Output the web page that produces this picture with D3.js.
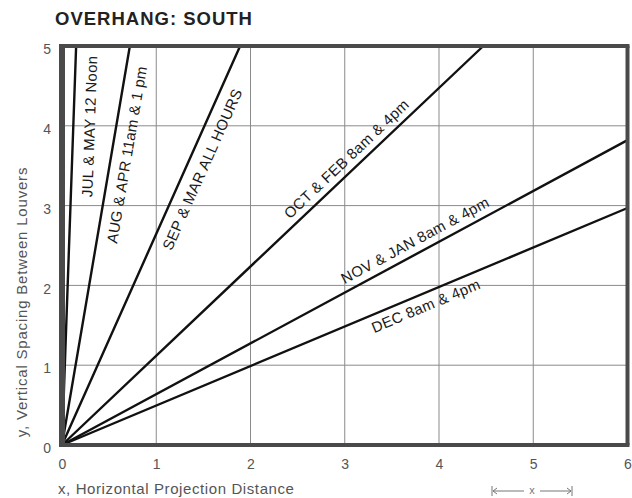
<!DOCTYPE html>
<html><head><meta charset="utf-8">
<script src="https://cdn.jsdelivr.net/npm/d3@7"></script>
<style>
body{margin:0;background:#fff;}
svg text{font-family:"Liberation Sans",Arial,Helvetica,sans-serif;}
</style></head>
<body><svg id="c" width="632" height="498"></svg>
<script>
// ---- data ----
const xTicks = [0, 1, 2, 3, 4, 5, 6];
const yTicks = [0, 1, 2, 3, 4, 5];
const lineNames = ["JUL & MAY 12 Noon", "AUG & APR 11am & 1 pm", "SEP & MAR ALL HOURS",
                   "OCT & FEB 8am & 4pm", "NOV & JAN 8am & 4pm", "DEC 8am & 4pm"];
const lineEndX = [0.15, 0.72, 1.89, 4.47, 6, 6];
const lineEndY = [5, 5, 5, 5, 3.82, 2.97];
// label placement (fraction along line, perpendicular offset px)
const labelT = [0.80, 0.734, 0.707, 0.695, 0.635, 0.635];
const labelOff = [16, 15, 15.5, -12.5, -13, 12];

const svg = d3.select("#c");
const x = d3.scaleLinear().domain([0, 6]).range([62, 627.5]);
const y = d3.scaleLinear().domain([0, 5]).range([445, 46]);

// title
svg.append("text").attr("x", 55).attr("y", 25).text("OVERHANG: SOUTH")
  .attr("font-size", 18.5).attr("font-weight", "bold").attr("fill", "#222").attr("letter-spacing", 1.0);

// grid
svg.append("g").selectAll("line").data(xTicks.slice(1, -1)).join("line")
  .attr("x1", d => x(d)).attr("x2", d => x(d)).attr("y1", y(0)).attr("y2", y(5))
  .attr("stroke", "#8a8a8a").attr("stroke-width", 1);
svg.append("g").selectAll("line").data(yTicks.slice(1, -1)).join("line")
  .attr("y1", d => y(d)).attr("y2", d => y(d)).attr("x1", x(0)).attr("x2", x(6))
  .attr("stroke", "#8a8a8a").attr("stroke-width", 1);

// axes tick labels via d3 axes
const xAxis = svg.append("g").attr("transform", `translate(0,${y(0)})`)
  .call(d3.axisBottom(x).tickValues(xTicks).tickFormat(d3.format("d")).tickSize(0).tickPadding(14));
xAxis.select(".domain").remove();
xAxis.selectAll("text").attr("font-size", 14).attr("fill", "#555").attr("font-family", "Liberation Sans, Arial, sans-serif");
const yAxis = svg.append("g").attr("transform", `translate(${x(0)},0)`)
  .call(d3.axisLeft(y).tickValues(yTicks).tickFormat(d3.format("d")).tickSize(0).tickPadding(11));
yAxis.select(".domain").remove();
yAxis.selectAll("text").attr("font-size", 14).attr("fill", "#555").attr("dy", "0.55em").attr("font-family", "Liberation Sans, Arial, sans-serif");

// data lines
const lines = lineNames.map((n, i) => ({name: n, ex: lineEndX[i], ey: lineEndY[i], t: labelT[i], off: labelOff[i]}));
svg.append("g").selectAll("line").data(lines).join("line")
  .attr("x1", x(0)).attr("y1", y(0)).attr("x2", d => x(d.ex)).attr("y2", d => y(d.ey))
  .attr("stroke", "#111").attr("stroke-width", 2.4).attr("stroke-linecap", "round");

// frame
const frame = svg.append("g").attr("stroke", "#4a4a4a");
frame.append("line").attr("x1", x(0)).attr("x2", x(0)).attr("y1", y(5) - 2).attr("y2", y(0) + 2).attr("stroke-width", 6);
frame.append("line").attr("x1", x(0)).attr("x2", x(6) + 2).attr("y1", y(0)).attr("y2", y(0)).attr("stroke-width", 4);
frame.append("line").attr("x1", x(0)).attr("x2", x(6) + 2).attr("y1", y(5)).attr("y2", y(5)).attr("stroke-width", 4);
frame.append("line").attr("x1", x(6)).attr("x2", x(6)).attr("y1", y(5)).attr("y2", y(0)).attr("stroke-width", 4);

// line labels
svg.append("g").selectAll("text").data(lines).join("text")
  .each(function(d) {
    const x0 = x(0), y0 = y(0), x1 = x(d.ex), y1 = y(d.ey);
    const ang = Math.atan2(y1 - y0, x1 - x0);
    const cx = x0 + (x1 - x0) * d.t, cy = y0 + (y1 - y0) * d.t;
    const px = cx - Math.sin(ang) * d.off, py = cy + Math.cos(ang) * d.off;
    d3.select(this).attr("transform", `translate(${px},${py}) rotate(${ang * 180 / Math.PI})`);
  })
  .attr("text-anchor", "middle").attr("dominant-baseline", "central")
  .attr("font-size", 15).attr("letter-spacing", 0.3).attr("fill", "#1a1a1a").text(d => d.name);

// axis titles
svg.append("text").attr("transform", `translate(27,${302}) rotate(-90)`).attr("text-anchor", "middle")
  .attr("font-size", 15).attr("letter-spacing", 0.8).attr("fill", "#555").text("y, Vertical Spacing Between Louvers");
svg.append("text").attr("x", 58).attr("y", 494).attr("font-size", 15).attr("letter-spacing", 0.6).attr("fill", "#555")
  .text("x, Horizontal Projection Distance");

// small dimension arrow
const ar = svg.append("g").attr("stroke", "#777").attr("stroke-width", 1).attr("fill", "none");
ar.append("line").attr("x1", 492).attr("x2", 492).attr("y1", 486).attr("y2", 496);
ar.append("line").attr("x1", 572).attr("x2", 572).attr("y1", 486).attr("y2", 496);
ar.append("line").attr("x1", 493).attr("x2", 524).attr("y1", 491).attr("y2", 491);
ar.append("line").attr("x1", 540).attr("x2", 571).attr("y1", 491).attr("y2", 491);
ar.append("path").attr("d", "M497,488 L493,491 L497,494 M567,488 L571,491 L567,494");
svg.append("text").attr("x", 532).attr("y", 494).attr("text-anchor", "middle").attr("font-size", 11).attr("fill", "#777").text("x");
</script></body></html>
